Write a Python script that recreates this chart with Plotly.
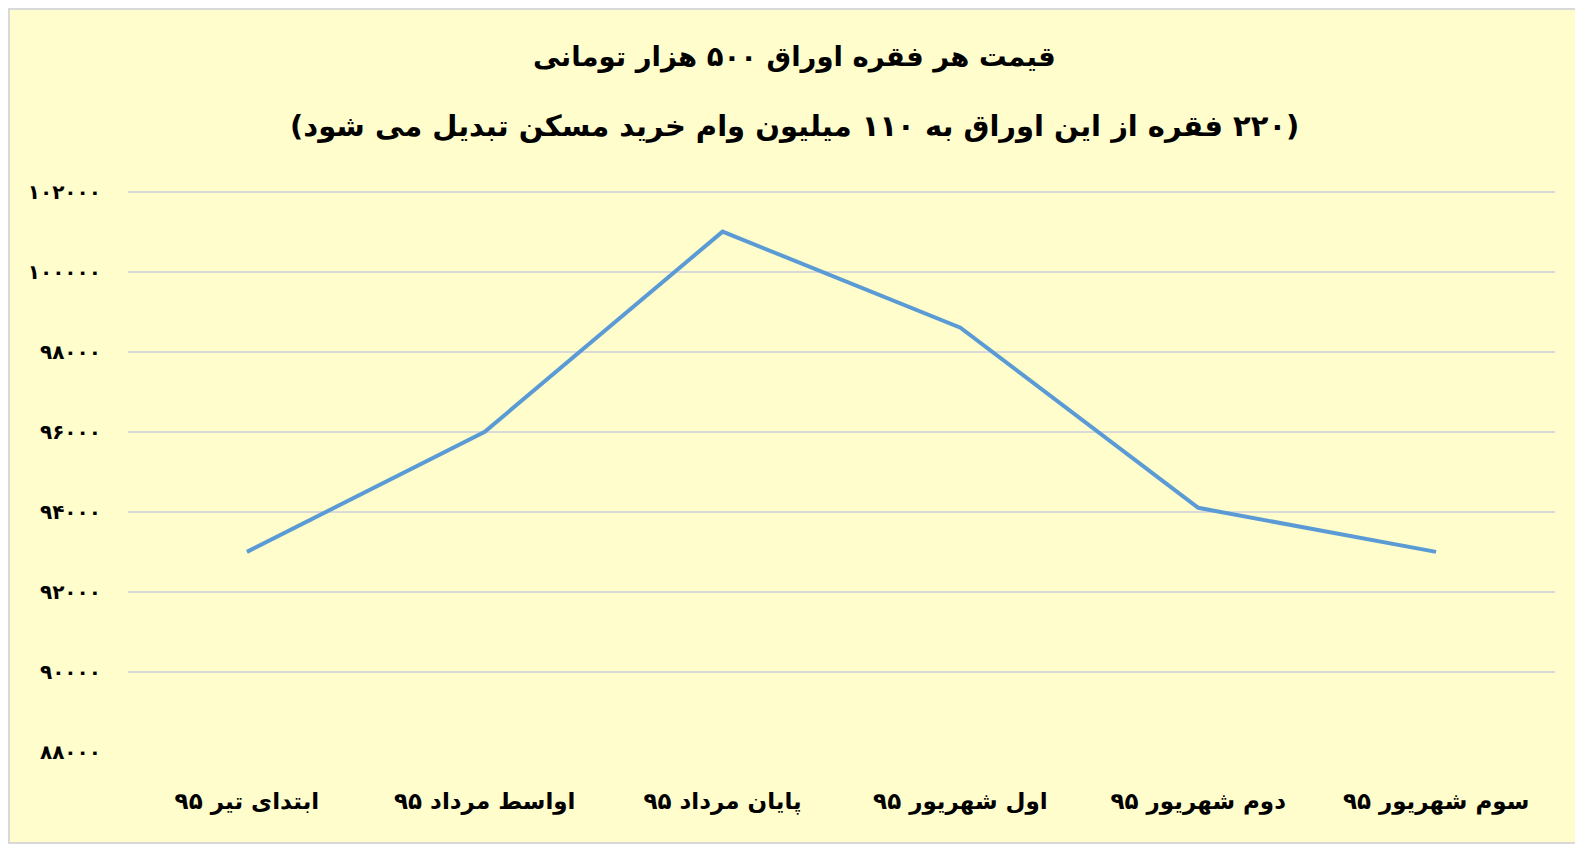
import plotly.graph_objects as go

# داده‌ها
categories = ["ابتدای تیر ۹۵", "اواسط مرداد ۹۵", "پایان مرداد ۹۵",
              "اول شهریور ۹۵", "دوم شهریور ۹۵", "سوم شهریور ۹۵"]
prices = [93000, 96000, 101000, 98600, 94100, 93000]
tick_values = [88000, 90000, 92000, 94000, 96000, 98000, 100000, 102000]
tick_labels = ["۸۸۰۰۰", "۹۰۰۰۰", "۹۲۰۰۰", "۹۴۰۰۰", "۹۶۰۰۰", "۹۸۰۰۰", "۱۰۰۰۰۰", "۱۰۲۰۰۰"]

title_1 = "قیمت هر فقره اوراق ۵۰۰ هزار تومانی"
title_2 = "(۲۲۰ فقره از این اوراق به ۱۱۰ میلیون وام خرید مسکن تبدیل می شود)"

RLE, PDF = "\u202b", "\u202c"  # متن راست به چپ

BG = "#FFFDCB"
FONT = "DejaVu Sans"

fig = go.Figure()
fig.add_trace(go.Scatter(
    x=categories,
    y=prices,
    mode="lines",
    line=dict(color="#5B9BD5", width=4),
    showlegend=False,
))

W, H = 1580, 836
L, R, T, B = 120, 33, 182, 92
pw, ph = W - L - R, H - T - B

fig.update_layout(
    width=W,
    height=H,
    paper_bgcolor=BG,
    plot_bgcolor=BG,
    margin=dict(l=L, r=R, t=T, b=B),
    font=dict(family=FONT, color="#000000"),
    xaxis=dict(
        type="category",
        range=[-0.5, 5.5],
        showgrid=False,
        showline=False,
        zeroline=False,
        ticks="",
        ticklabelstandoff=33,
        tickfont=dict(size=23, family=FONT, weight="bold"),
    ),
    yaxis=dict(
        range=[88000, 102040],
        tickvals=tick_values,
        ticktext=tick_labels,
        showgrid=True,
        gridcolor="#D9D9D9",
        gridwidth=1.5,
        zeroline=False,
        showline=False,
        ticks="",
        ticklabelstandoff=26,
        tickfont=dict(size=20, family=FONT, weight="bold"),
    ),
    annotations=[
        dict(text="<b>" + RLE + title_1 + PDF + "</b>", xref="paper", yref="paper",
             x=(786 - L) / pw, y=1 + (T - 48) / ph, yanchor="middle",
             showarrow=False, font=dict(size=27.5, family=FONT)),
        dict(text="<b>" + RLE + title_2 + PDF + "</b>", xref="paper", yref="paper",
             x=(786 - L) / pw, y=1 + (T - 118) / ph, yanchor="middle",
             showarrow=False, font=dict(size=29, family=FONT)),
    ],
    shapes=[
        dict(type="rect", xref="paper", yref="paper",
             x0=-(L - 1) / pw, x1=1 + (R - 1) / pw,
             y0=-(B - 1) / ph, y1=1 + (T - 1) / ph,
             line=dict(color="#D9D9D9", width=2), layer="below"),
    ],
)

fig.write_html("out.html")
